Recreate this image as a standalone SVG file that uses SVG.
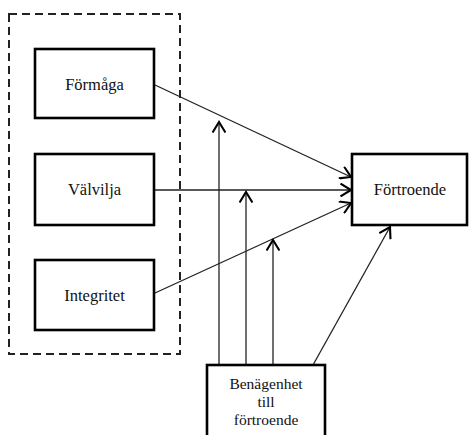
<svg xmlns="http://www.w3.org/2000/svg" width="470" height="435" viewBox="0 0 470 435">
<style>
.box{fill:#fff;stroke:#000;stroke-width:2.6}
.lbl{font-family:"Liberation Serif","Times New Roman",serif;font-size:16.5px;fill:#111;text-anchor:middle}
.sm{font-size:15.5px}
.c{stroke:#222;stroke-width:1.3;fill:none;marker-end:url(#ah)}
</style>
<defs>
<marker id="ah" markerUnits="userSpaceOnUse" markerWidth="14" markerHeight="14" refX="10" refY="6" orient="auto" viewBox="0 0 12 12">
<path d="M1,0.5 L10,6 L1,11.5" fill="none" stroke="#000" stroke-width="1.8"/>
</marker>
</defs>
<rect x="0" y="0" width="470" height="435" fill="#fff"/>
<rect id="group" x="9" y="14" width="171" height="340" fill="none" stroke="#222" stroke-width="2" stroke-dasharray="8,5"/>
<g id="connectors">
<line class="c" x1="155" y1="85" x2="351" y2="177"/>
<line class="c" x1="155" y1="190" x2="351" y2="190"/>
<line class="c" x1="155" y1="293" x2="351" y2="203"/>
<line class="c" x1="219" y1="365" x2="219" y2="122"/>
<line class="c" x1="246" y1="365" x2="246" y2="192"/>
<line class="c" x1="273" y1="365" x2="273" y2="240"/>
<line class="c" x1="313" y1="365" x2="390" y2="227"/>
</g>
<g id="formaga"><rect class="box" x="35" y="49" width="119" height="69"/><text class="lbl" x="94.5" y="89.5">Förmåga</text></g>
<g id="valvilja"><rect class="box" x="35" y="154" width="119" height="71"/><text class="lbl" x="94.5" y="195">Välvilja</text></g>
<g id="integritet"><rect class="box" x="35" y="260" width="119" height="70"/><text class="lbl" x="94.5" y="301">Integritet</text></g>
<g id="fortroende"><rect class="box" x="352" y="154" width="115" height="71"/><text class="lbl" x="410" y="195">Förtroende</text></g>
<g id="benagenhet"><rect class="box" x="207" y="365" width="118" height="80"/>
<text class="lbl sm" x="266" y="389">Benägenhet</text>
<text class="lbl sm" x="266" y="407">till</text>
<text class="lbl sm" x="266" y="425">förtroende</text></g>
</svg>
